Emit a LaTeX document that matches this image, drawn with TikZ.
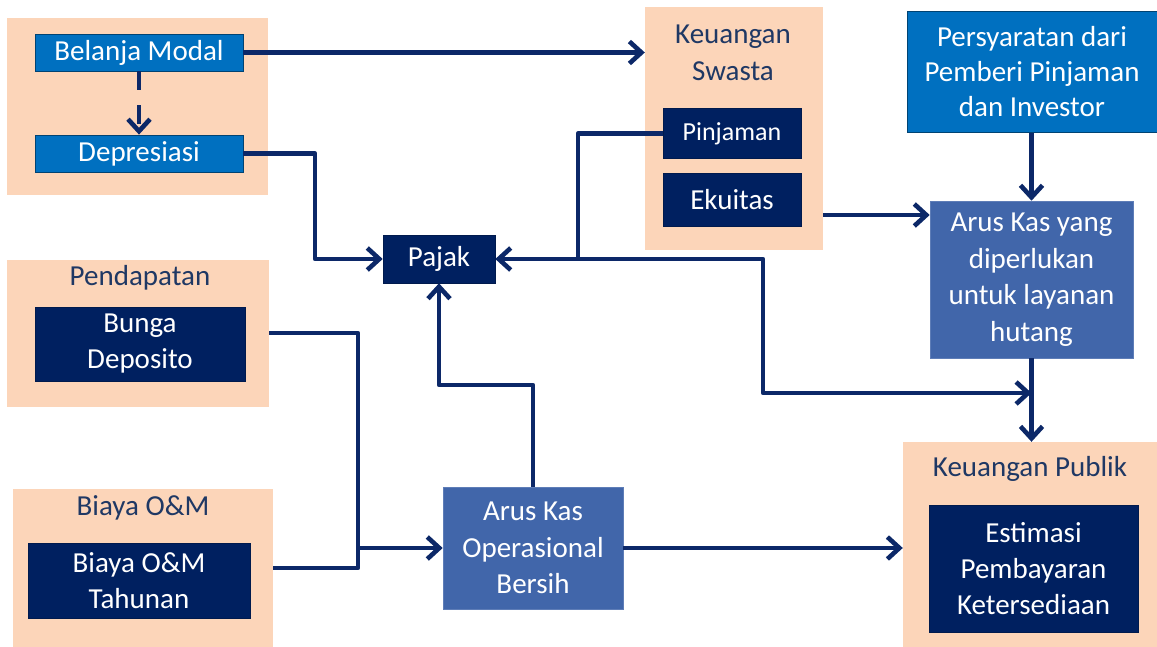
\documentclass[tikz,border=0pt]{standalone}
\usepackage{fontspec}
\setmainfont{Carlito}
\usetikzlibrary{arrows.meta}
\definecolor{peach}{HTML}{FCD5B9}
\definecolor{navy}{HTML}{002060}
\definecolor{midblue}{HTML}{0070C0}
\definecolor{steel}{HTML}{4166AA}
\definecolor{linec}{HTML}{0C2868}
\definecolor{titlec}{HTML}{1F3864}
\tikzset{
  peachbox/.style={fill=peach, draw=none, inner sep=0pt},
  navybox/.style={fill=navy, draw=navy!80!black, line width=0.6pt, text=white, align=center, inner sep=0pt, font=\fontsize{29}{36}\selectfont},
  bluebox/.style={fill=midblue, draw=midblue!60!black, line width=0.8pt, text=white, align=center, inner sep=0pt, font=\fontsize{29}{36}\selectfont},
  steelbox/.style={fill=steel, draw=steel!85!white, line width=0.6pt, text=white, align=center, inner sep=0pt, font=\fontsize{29}{36.5}\selectfont},
  titletext/.style={text=titlec, align=center, inner sep=0pt, font=\fontsize{29}{37}\selectfont},
  conn/.style={draw=linec, line width=4.6pt, line join=round},
  arr/.style={conn, -{Straight Barb[length=12pt,width=22pt,line width=4.6pt]}},
}
\begin{document}
\begin{tikzpicture}[x=1pt,y=-1pt]
\useasboundingbox (0,0) rectangle (1157,647);
% peach groups
\node[peachbox, minimum width=261pt, minimum height=177pt] (g1) at (137.5,106.5) {};
\node[peachbox, minimum width=262pt, minimum height=147pt] (pend) at (138,333.5) {};
\node[peachbox, minimum width=260pt, minimum height=158pt] (bom) at (143,568) {};
\node[peachbox, minimum width=178pt, minimum height=243pt] (ks) at (734,128.5) {};
\node[peachbox, minimum width=254pt, minimum height=205pt] (kp) at (1030,544.5) {};
% titles
\node[titletext] (tks) at (733,52.5) {Keuangan\\Swasta};
\node[titletext] (tpend) at (140,278) {Pendapatan};
\node[titletext] (tbom) at (143,508) {Biaya O\&M};
\node[titletext] (tkp) at (1030,469) {Keuangan Publik};
% boxes
\node[bluebox, minimum width=208pt, minimum height=37pt] (bm) at (139,52.5) {Belanja Modal};
\node[bluebox, minimum width=208pt, minimum height=37pt] (dep) at (139,153.5) {Depresiasi};
\node[navybox, minimum width=210pt, minimum height=74pt] (bunga) at (140,344) {Bunga\\Deposito};
\node[navybox, minimum width=222pt, minimum height=75pt] (biaya) at (139,580.5) {Biaya O\&M\\Tahunan};
\node[navybox, minimum width=112pt, minimum height=48pt] (pajak) at (439,259) {Pajak};
\node[navybox, minimum width=138pt, minimum height=50pt, font=\fontsize{26}{30}\selectfont] (pin) at (732,133.5) {Pinjaman};
\node[navybox, minimum width=138pt, minimum height=53pt] (ek) at (732,199.5) {Ekuitas};
\node[bluebox, minimum width=250pt, minimum height=121pt, font=\fontsize{29}{35}\selectfont] (per) at (1032,72) {Persyaratan dari\\Pemberi Pinjaman\\dan Investor};
\node[steelbox, minimum width=203pt, minimum height=157pt] (ak) at (1031.5,279.5) {Arus Kas yang\\diperlukan\\untuk layanan\\hutang};
\node[steelbox, minimum width=180pt, minimum height=122pt] (ao) at (533,548) {Arus Kas\\Operasional\\Bersih};
\node[navybox, minimum width=209pt, minimum height=127pt] (est) at (1033.5,568.5) {Estimasi\\Pembayaran\\Ketersediaan};
% helper coordinates
\coordinate (j1) at (578,259);
\coordinate (j2) at (763,259);
\coordinate (j3) at (763,393);
\coordinate (ekline) at (0,215);
\coordinate (bungaline) at (0,333);
\coordinate (biayaline) at (0,568);
\coordinate (jx) at (358,548);
\coordinate (aoturn) at (533,385);
% connectors
\draw[arr] (bm.east) -- (bm.east -| ks.west);
\draw[arr, dash pattern=on 19pt off 15pt] (bm.south) -- (dep.north);
\draw[arr] (dep.east) -- (315,153.5) |- (pajak.west);
\draw[conn] (pin.west) -| (j1);
\draw[arr] (j1) -- (pajak.east);
\draw[arr] (j1) -- (j2) -- (j3) -- (ak.south |- j3);
\draw[arr] (ks.east |- ekline) -- (ak.west |- ekline);
\draw[arr] (ak.north |- per.south) -- (ak.north);
\draw[arr] (ak.south) -- (ak.south |- kp.north);
\draw[conn] (pend.east |- bungaline) -| (jx);
\draw[conn] (bom.east |- biayaline) -| (jx);
\draw[arr] (jx) -- (ao.west);
\draw[arr] (ao.north) -- (aoturn) -| (pajak.south);
\draw[arr] (ao.east) -- (kp.west |- ao.east);
\end{tikzpicture}
\end{document}
